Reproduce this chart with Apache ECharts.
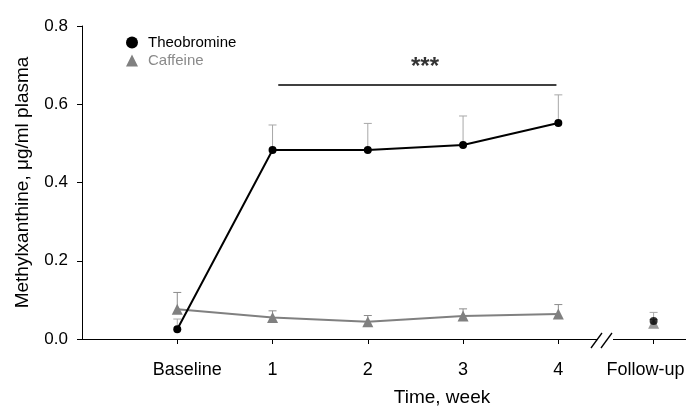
<!DOCTYPE html>
<html>
<head>
<meta charset="utf-8">
<script src="https://cdn.jsdelivr.net/npm/echarts@6/dist/echarts.min.js"></script>
<style>html,body{margin:0;padding:0;background:#fff}#c{width:686px;height:406px}</style>
</head>
<body>
<div id="c"></div>
<script>
// ---- data ----
var tickLabels = ['Baseline', '1', '2', '3', '4', 'Follow-up'];
var xPos = [0, 1, 2, 3, 4, 5];
var theoMean = [0.025, 0.483, 0.483, 0.496, 0.552, 0.046];
var theoErr  = [0.026, 0.064, 0.068, 0.074, 0.072, 0.022];
var cafMean  = [0.076, 0.055, 0.044, 0.059, 0.064, 0.040];
var cafErr   = [0.043, 0.017, 0.016, 0.018, 0.024, 0.010];
var sigFrom = 1.06, sigTo = 3.98, sigY = 0.650;
var sigLabelX = 2.6, sigLabelY = 0.693;
var breakAt = 4.5;

var FONT = '"Liberation Sans", Arial, sans-serif';

function pairs(xs, ys, from, to) {
  var out = [];
  for (var i = from; i < to; i++) out.push([xs[i], ys[i]]);
  return out;
}
function errData(xs, m, e) {
  var out = [];
  for (var i = 0; i < xs.length; i++) out.push([xs[i], m[i], m[i] + e[i]]);
  return out;
}
function errRender(color) {
  return function (params, api) {
    var p0 = api.coord([api.value(0), api.value(1)]);
    var p1 = api.coord([api.value(0), api.value(2)]);
    var hw = 4;
    return {
      type: 'group',
      children: [
        {type: 'line', shape: {x1: p0[0], y1: p0[1], x2: p1[0], y2: p1[1]}, style: {stroke: color, lineWidth: 1}},
        {type: 'line', shape: {x1: p1[0] - hw, y1: p1[1], x2: p1[0] + hw, y2: p1[1]}, style: {stroke: color, lineWidth: 1}}
      ]
    };
  };
}

var chart = echarts.init(document.getElementById('c'), null, {renderer: 'canvas'});
var option = {
  animation: false,
  backgroundColor: '#fff',
  textStyle: {fontFamily: FONT},
  title: {
    text: 'Time, week', left: 437, top: 383, textAlign: 'center',
    textStyle: {fontFamily: FONT, fontSize: 19, fontWeight: 'normal', color: '#000'}
  },
  legend: {
    orient: 'vertical', left: 121, top: 30, itemWidth: 12, itemHeight: 12, itemGap: 3,
    textStyle: {fontFamily: FONT, fontSize: 15, padding: [0, 0, 0, 5]},
    data: [
      {name: 'Theobromine', icon: 'circle', textStyle: {color: '#000'}},
      {name: 'Caffeine', icon: 'triangle', textStyle: {color: '#8a8a8a'}}
    ],
    selectedMode: false
  },
  grid: {left: 82, right: 0, top: 26, bottom: 67, containLabel: false, outerBoundsMode: 'none'},
  xAxis: {
    type: 'value', min: -1, max: 5.34, interval: 1,
    axisLine: {onZero: false, lineStyle: {color: '#000', width: 1}},
    axisTick: {show: true, length: 5, lineStyle: {color: '#000'}, customValues: xPos},
    axisLabel: {
      customValues: xPos, margin: 22, color: '#000', fontSize: 18, fontFamily: FONT,
      hideOverlap: false,
      formatter: function (v) {
        var i = xPos.indexOf(v);
        if (i < 0) return '';
        if (i === 0) return '{b|' + tickLabels[i] + '}';
        if (i === tickLabels.length - 1) return '{f|' + tickLabels[i] + '}';
        return tickLabels[i];
      },
      rich: {
        b: {fontSize: 18, fontFamily: FONT, color: '#000', padding: [0, 0, 0, 20]},
        f: {fontSize: 18, fontFamily: FONT, color: '#000', padding: [0, 16, 0, 0]}
      }
    },
    splitLine: {show: false}
  },
  yAxis: {
    type: 'value', min: 0, max: 0.8, interval: 0.2,
    name: 'Methylxanthine, μg/ml plasma', nameLocation: 'middle', nameGap: 50,
    nameTextStyle: {fontFamily: FONT, fontSize: 19, color: '#000'},
    axisLine: {show: true, onZero: false, lineStyle: {color: '#000', width: 1}},
    axisTick: {show: true, length: 5, lineStyle: {color: '#000'}},
    axisLabel: {margin: 14, color: '#000', fontSize: 17, fontFamily: FONT, formatter: function (v) { return v.toFixed(1); }},
    splitLine: {show: false}
  },
  series: [
    {type: 'custom', name: 'theoErr', renderItem: errRender('#a8a8a8'), data: errData(xPos, theoMean, theoErr), z: 1, silent: true},
    {type: 'custom', name: 'cafErr', renderItem: errRender('#8c8c8c'), data: errData(xPos, cafMean, cafErr), z: 1, silent: true},
    {type: 'line', name: 'Caffeine', data: pairs(xPos, cafMean, 0, 5), symbol: 'triangle', symbolSize: 11,
     itemStyle: {color: '#808080'}, lineStyle: {color: '#808080', width: 2}, z: 2},
    {type: 'scatter', name: 'Caffeine', data: pairs(xPos, cafMean, 5, 6), symbol: 'triangle', symbolSize: 11,
     itemStyle: {color: '#808080'}, z: 2},
    {type: 'line', name: 'Theobromine', data: pairs(xPos, theoMean, 0, 5), symbol: 'circle', symbolSize: 8,
     itemStyle: {color: '#000'}, lineStyle: {color: '#000', width: 2}, z: 3,
     markLine: {silent: true, symbol: ['none', 'none'], label: {show: false},
       lineStyle: {color: '#000', width: 1.5, type: 'solid'},
       data: [[{coord: [sigFrom, sigY]}, {coord: [sigTo, sigY]}]]}},
    {type: 'scatter', name: 'Theobromine', data: pairs(xPos, theoMean, 5, 6), symbol: 'circle', symbolSize: 8,
     itemStyle: {color: '#000'}, z: 3},
    {type: 'scatter', name: 'sig', data: [[sigLabelX, sigLabelY]], symbolSize: 0, silent: true,
     label: {show: true, position: 'inside', formatter: '***', fontSize: 24, fontWeight: 'bold', color: '#000', fontFamily: FONT}}
  ]
};
chart.setOption(option);

// axis break marks
var bx = chart.convertToPixel({xAxisIndex: 0}, breakAt);
var by = chart.convertToPixel({yAxisIndex: 0}, 0);
chart.setOption({
  graphic: [
    {type: 'rect', shape: {x: bx - 8, y: by - 3, width: 15, height: 6}, style: {fill: '#fff'}, z: 100},
    {type: 'line', shape: {x1: bx - 15, y1: by + 9, x2: bx - 4, y2: by - 6}, style: {stroke: '#000', lineWidth: 1.3}, z: 101},
    {type: 'line', shape: {x1: bx - 5, y1: by + 9, x2: bx + 6, y2: by - 6}, style: {stroke: '#000', lineWidth: 1.3}, z: 101}
  ]
});
</script>
</body>
</html>
